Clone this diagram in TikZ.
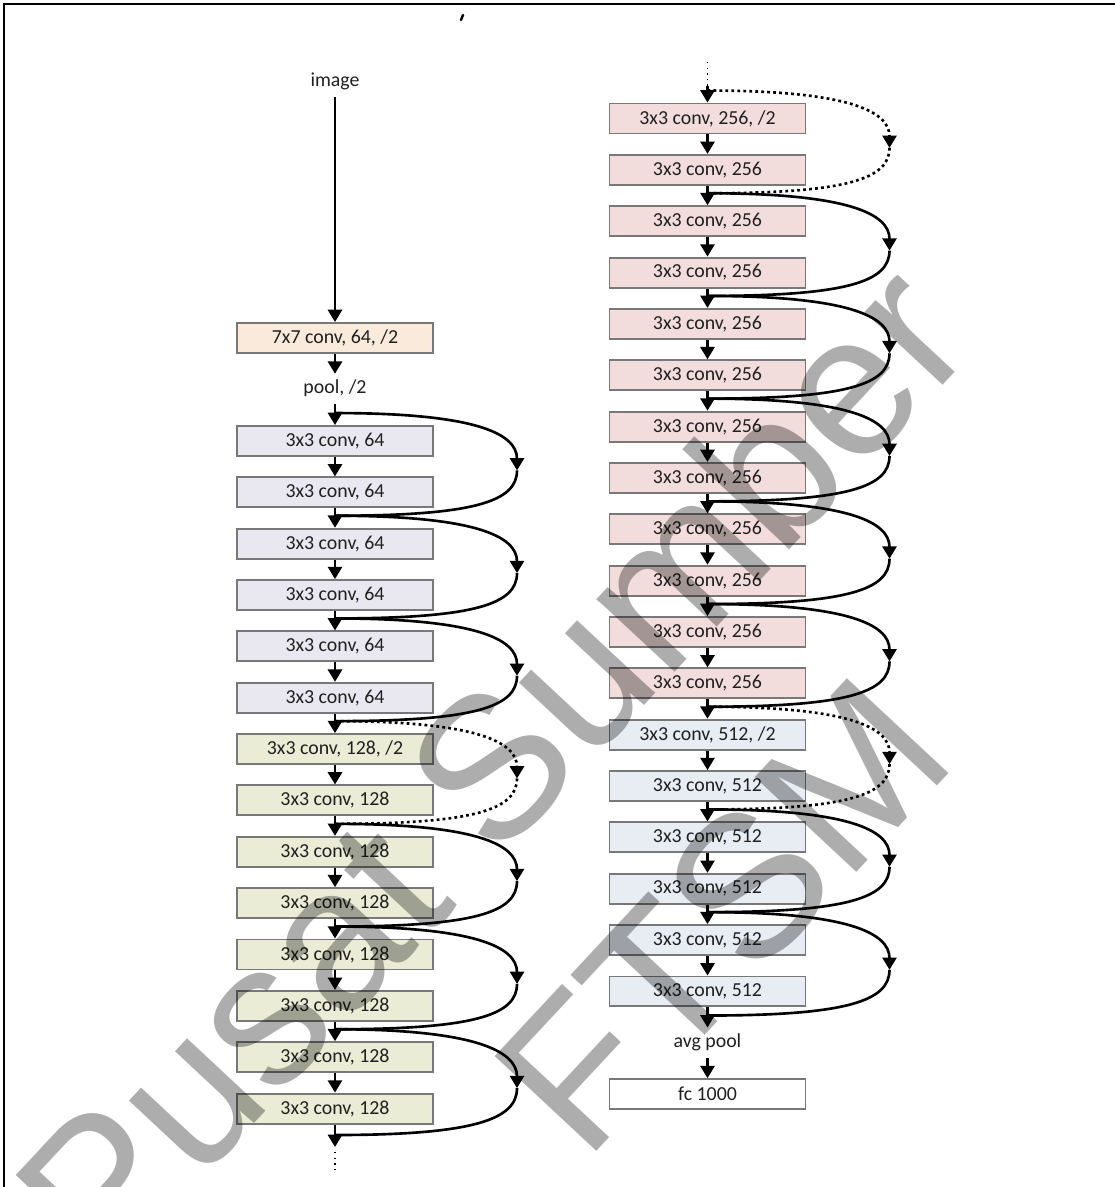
\documentclass[tikz,border=0pt]{standalone}
\usepackage{fontspec}
\setmainfont{Carlito}
\newfontfamily\wmfont{Liberation Sans}
\usetikzlibrary{arrows.meta,calc}

\definecolor{cstem}{HTML}{FAEADC}
\definecolor{cgroupa}{HTML}{E9E7F0}
\definecolor{cgroupb}{HTML}{EAECD6}
\definecolor{cgroupc}{HTML}{F2DDDC}
\definecolor{cgroupd}{HTML}{E8ECF3}
\definecolor{boxline}{HTML}{787878}
\definecolor{txt}{HTML}{202020}

% shortcut connection: bulges to the right, arrow head at the turning point
\newcommand\resarc[3][]{%
  \draw[link,#1,-{Triangle[width=8pt,length=7pt]}] (#2)
    .. controls +(140,0) and +(0,-37) .. ($(#2)!0.5!(#3)+(182,6)$);
  \draw[link,#1] ($(#2)!0.5!(#3)+(182,6)$)
    .. controls +(0,31) and +(140,0) .. (#3);}

\begin{document}
\begin{tikzpicture}[x=0.02cm,y=-0.02cm,
  box/.style={draw=boxline, line width=1.1pt, minimum width=3.92cm,
    minimum height=0.6cm, inner sep=0pt, text=txt,
    font=\fontsize{11.3}{13}\selectfont},
  lbl/.style={text=txt, font=\fontsize{11.3}{13}\selectfont,
    text height=8pt, text depth=2.5pt, inner xsep=2pt, inner ysep=3.25pt},
  arr/.style={line width=1.5pt, -{Triangle[width=8pt,length=7pt]}},
  link/.style={line width=1.5pt},
  hop/.style={dash pattern=on 1.6pt off 1.8pt},
  cont/.style={line width=0.8pt, dash pattern=on 0.8pt off 2.4pt},
  wm/.style={rotate=47, text=black, text opacity=0.32,
    font=\wmfont\fontsize{115}{115}\selectfont}
]
\useasboundingbox (0,0) rectangle (1115,1187);
\clip (0,0) rectangle (1115,1187);

% frame
\draw[line width=1.1pt] (4,1187) -- (4,4) -- (1115,4);
\draw[line width=1.4pt, line cap=round] (463,15) -- (461,20);

% ---------------- left column ----------------
\node[lbl] (img) at (335,82) {image};
\node[box, fill=cstem] (C1) at (335,338) {7x7 conv, 64, /2};
\node[lbl] (pool) at (335,389) {pool, /2};

\node[box, fill=cgroupa] (L1) at (335,441) {3x3 conv, 64};
\node[box, fill=cgroupa] (L2) at (335,492.35) {3x3 conv, 64};
\node[box, fill=cgroupa] (L3) at (335,543.7) {3x3 conv, 64};
\node[box, fill=cgroupa] (L4) at (335,595.05) {3x3 conv, 64};
\node[box, fill=cgroupa] (L5) at (335,646.4) {3x3 conv, 64};
\node[box, fill=cgroupa] (L6) at (335,697.75) {3x3 conv, 64};
\node[box, fill=cgroupb] (L7) at (335,749.1) {3x3 conv, 128, /2};
\node[box, fill=cgroupb] (L8) at (335,800.45) {3x3 conv, 128};
\node[box, fill=cgroupb] (L9) at (335,851.8) {3x3 conv, 128};
\node[box, fill=cgroupb] (L10) at (335,903.15) {3x3 conv, 128};
\node[box, fill=cgroupb] (L11) at (335,954.5) {3x3 conv, 128};
\node[box, fill=cgroupb] (L12) at (335,1005.85) {3x3 conv, 128};
\node[box, fill=cgroupb] (L13) at (335,1057.2) {3x3 conv, 128};
\node[box, fill=cgroupb] (L14) at (335,1108.55) {3x3 conv, 128};
\coordinate (Lend) at (335,1147);
\coordinate (Ld1) at (335,1152);
\coordinate (Ld2) at (335,1172);

\draw[arr] (img) -- (C1);
\draw[arr] (C1) -- (pool);
\draw[arr] (pool) -- (L1);
\foreach \a/\b in {L1/L2,L2/L3,L3/L4,L4/L5,L5/L6,L6/L7,L7/L8,L8/L9,
                   L9/L10,L10/L11,L11/L12,L12/L13,L13/L14}
  \draw[arr] (\a) -- (\b);
\draw[arr] (L14) -- (Lend);
\draw[cont] (Ld1) -- (Ld2);

\foreach \n in {L1,L3,L5,L7,L9,L11,L13}
  \coordinate (\n-in) at ([yshift=0.24cm]\n.north);
\coordinate (Lend-in) at ([yshift=0.24cm]Lend);

\resarc{L1-in}{L3-in}
\resarc{L3-in}{L5-in}
\resarc{L5-in}{L7-in}
\resarc[hop]{L7-in}{L9-in}
\resarc{L9-in}{L11-in}
\resarc{L11-in}{L13-in}
\resarc{L13-in}{Lend-in}

% ---------------- right column ----------------
\coordinate (Rtop) at (707.5,62);
\coordinate (Rtopb) at (707.5,86);
\node[box, fill=cgroupc] (R1) at (707.5,118.5) {3x3 conv, 256, /2};
\node[box, fill=cgroupc] (R2) at (707.5,169.85) {3x3 conv, 256};
\node[box, fill=cgroupc] (R3) at (707.5,221.2) {3x3 conv, 256};
\node[box, fill=cgroupc] (R4) at (707.5,272.55) {3x3 conv, 256};
\node[box, fill=cgroupc] (R5) at (707.5,323.9) {3x3 conv, 256};
\node[box, fill=cgroupc] (R6) at (707.5,375.25) {3x3 conv, 256};
\node[box, fill=cgroupc] (R7) at (707.5,426.6) {3x3 conv, 256};
\node[box, fill=cgroupc] (R8) at (707.5,477.95) {3x3 conv, 256};
\node[box, fill=cgroupc] (R9) at (707.5,529.3) {3x3 conv, 256};
\node[box, fill=cgroupc] (R10) at (707.5,580.65) {3x3 conv, 256};
\node[box, fill=cgroupc] (R11) at (707.5,632) {3x3 conv, 256};
\node[box, fill=cgroupc] (R12) at (707.5,683.35) {3x3 conv, 256};
\node[box, fill=cgroupd] (R13) at (707.5,734.7) {3x3 conv, 512, /2};
\node[box, fill=cgroupd] (R14) at (707.5,786.05) {3x3 conv, 512};
\node[box, fill=cgroupd] (R15) at (707.5,837.4) {3x3 conv, 512};
\node[box, fill=cgroupd] (R16) at (707.5,888.75) {3x3 conv, 512};
\node[box, fill=cgroupd] (R17) at (707.5,940.1) {3x3 conv, 512};
\node[box, fill=cgroupd] (R18) at (707.5,991.45) {3x3 conv, 512};
\node[lbl] (avg) at (707.5,1042.8) {avg pool};
\node[box, fill=white] (fc) at (707.5,1094.15) {fc 1000};

\draw[cont] (Rtop) -- (Rtopb);
\draw[arr] (Rtopb) -- (R1);
\foreach \a/\b in {R1/R2,R2/R3,R3/R4,R4/R5,R5/R6,R6/R7,R7/R8,R8/R9,R9/R10,
                   R10/R11,R11/R12,R12/R13,R13/R14,R14/R15,R15/R16,R16/R17,
                   R17/R18,R18/avg,avg/fc}
  \draw[arr] (\a) -- (\b);

\foreach \n in {R1,R3,R5,R7,R9,R11,R13,R15,R17,avg}
  \coordinate (\n-in) at ([yshift=0.24cm]\n.north);

\resarc[hop]{R1-in}{R3-in}
\resarc{R3-in}{R5-in}
\resarc{R5-in}{R7-in}
\resarc{R7-in}{R9-in}
\resarc{R9-in}{R11-in}
\resarc{R11-in}{R13-in}
\resarc[hop]{R13-in}{R15-in}
\resarc{R15-in}{R17-in}
\resarc{R17-in}{avg-in}

% ---------------- stamp over the page ----------------
\node[wm] (wmA) at (490,765) {Pusat Sumber};
\node[wm] (wmB) at (722,915) {FTSM};
\end{tikzpicture}
\end{document}
